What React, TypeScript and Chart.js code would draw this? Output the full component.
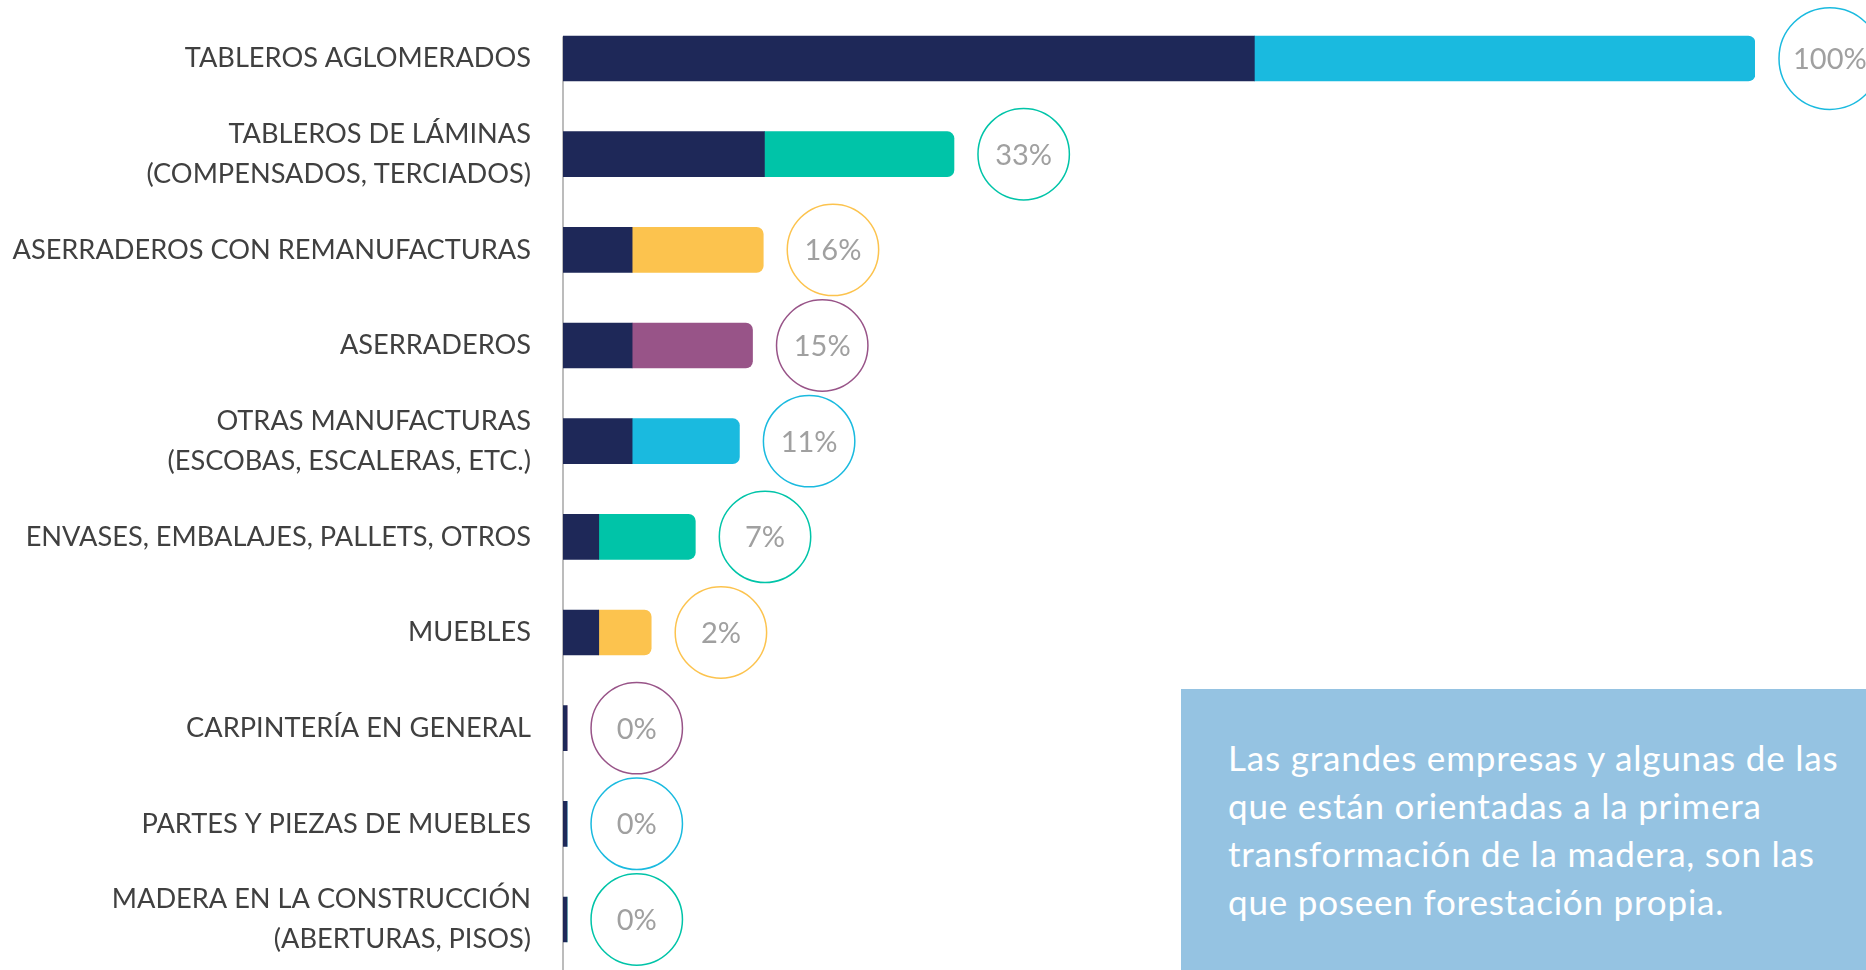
import React, { useEffect, useRef } from "react";
import { Chart, registerables } from "chart.js";

Chart.register(...registerables);

// ---- data ----
const categories: (string | string[])[] = [
  "TABLEROS AGLOMERADOS",
  ["TABLEROS DE LÁMINAS", "(COMPENSADOS, TERCIADOS)"],
  "ASERRADEROS CON REMANUFACTURAS",
  "ASERRADEROS",
  ["OTRAS MANUFACTURAS", "(ESCOBAS, ESCALERAS, ETC.)"],
  "ENVASES, EMBALAJES, PALLETS, OTROS",
  "MUEBLES",
  "CARPINTERÍA EN GENERAL",
  "PARTES Y PIEZAS DE MUEBLES",
  ["MADERA EN LA CONSTRUCCIÓN", "(ABERTURAS, PISOS)"],
];
const darkSegment = [58.0, 16.9, 5.8, 5.8, 5.8, 3.0, 3.0, 0.34, 0.34, 0.34];
const colorSegment = [42.0, 15.9, 11.0, 10.1, 9.0, 8.1, 4.4, 0, 0, 0];
const percentLabels = ["100%", "33%", "16%", "15%", "11%", "7%", "2%", "0%", "0%", "0%"];
const accentCycle = ["#1ABADF", "#00C4A8", "#FCC34E", "#985488"];
const noteLines = [
  "Las grandes empresas y algunas de las",
  "que están orientadas a la primera",
  "transformación de la madera, son las",
  "que poseen forestación propia.",
];

const NAVY = "#1E2858";
const FONT = "Lato, 'Open Sans', sans-serif";

const accentFor = (i: number) => accentCycle[i % accentCycle.length];

const decorPlugin = {
  id: "decor",
  beforeDatasetsDraw(chart: any) {
    const { ctx, chartArea } = chart;
    const yFirst = chart.scales.y.getPixelForValue(0);
    ctx.save();
    ctx.strokeStyle = "#A6A6A6";
    ctx.lineWidth = 1.5;
    ctx.beginPath();
    ctx.moveTo(chartArea.left, yFirst - 22);
    ctx.lineTo(chartArea.left, chartArea.bottom + 4);
    ctx.stroke();
    ctx.restore();
  },
  afterDatasetsDraw(chart: any) {
    const ctx = chart.ctx;
    const m0 = chart.getDatasetMeta(0);
    const m1 = chart.getDatasetMeta(1);
    ctx.save();
    ctx.font = `29px ${FONT}`;
    percentLabels.forEach((txt, i) => {
      const e0 = m0.data[i];
      const e1 = m1.data[i];
      const end = Math.max(e0.x, e1.x);
      const w = ctx.measureText(txt).width;
      const r = Math.max(45.7, w / 2 + 14);
      const cx = end + 24 + r;
      const cy = e0.y;
      ctx.beginPath();
      ctx.arc(cx, cy, r, 0, Math.PI * 2);
      ctx.fillStyle = "#FFFFFF";
      ctx.fill();
      ctx.lineWidth = 1.5;
      ctx.strokeStyle = accentFor(i);
      ctx.stroke();
      ctx.fillStyle = "#A0A0A0";
      ctx.textAlign = "center";
      ctx.textBaseline = "middle";
      ctx.fillText(txt, cx, cy + 1);
    });
    ctx.restore();
  },
};

export default function App() {
  const canvasRef = useRef<HTMLCanvasElement | null>(null);

  useEffect(() => {
    if (!canvasRef.current) return;
    const chart = new Chart(canvasRef.current, {
      type: "bar",
      data: {
        labels: categories,
        datasets: [
          {
            label: "Segmento 1",
            data: darkSegment,
            backgroundColor: NAVY,
            borderWidth: 0,
            borderRadius: 0,
            barThickness: 45,
          },
          {
            label: "Segmento 2",
            data: colorSegment,
            backgroundColor: categories.map((_, i) => accentFor(i)),
            borderWidth: 0,
            borderRadius: 7,
            barThickness: 45,
          },
        ],
      },
      options: {
        indexAxis: "y",
        responsive: false,
        animation: false,
        layout: { padding: { top: 10.7, bottom: 2.7, left: 0, right: 111 } },
        plugins: {
          legend: { display: false },
          tooltip: { enabled: false },
        },
        scales: {
          x: {
            stacked: true,
            min: 0,
            max: 100,
            display: false,
          },
          y: {
            stacked: true,
            grid: { display: false, drawTicks: false },
            border: { display: false },
            ticks: {
              padding: 32,
              color: "#404040",
              font: { family: FONT, size: 27.2, lineHeight: 1.47 },
            },
            afterFit: (s: any) => {
              s.width = 563;
              s.paddingTop = 0;
              s.paddingBottom = 0;
            },
          },
        },
      },
      plugins: [decorPlugin],
    });
    return () => chart.destroy();
  }, []);

  return (
    <div
      style={{
        position: "absolute",
        left: 0,
        top: 0,
        width: 1866,
        height: 970,
        overflow: "hidden",
        background: "#FFFFFF",
      }}
    >
      <canvas
        ref={canvasRef}
        width={1866}
        height={970}
        style={{ width: 1866, height: 970, display: "block" }}
      />
      <div
        style={{
          position: "absolute",
          left: 1181,
          top: 689,
          width: 685,
          height: 281,
          background: "#95C3E2",
          color: "#FFFFFF",
          fontFamily: FONT,
          fontSize: 35,
          letterSpacing: 0.8,
          lineHeight: "48px",
          paddingLeft: 47,
          paddingTop: 43.5,
          boxSizing: "border-box",
          whiteSpace: "nowrap",
        }}
      >
        {noteLines.map((l, i) => (
          <div key={i}>{l}</div>
        ))}
      </div>
    </div>
  );
}
